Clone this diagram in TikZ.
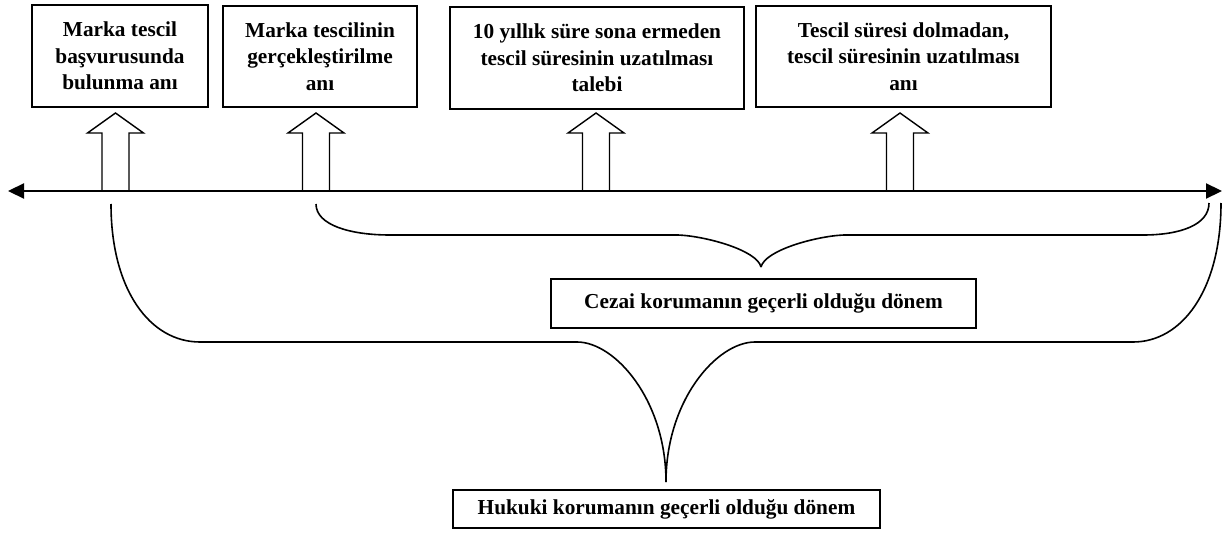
\documentclass[tikz,border=0pt]{standalone}
\usepackage{fontspec}
\setmainfont{Liberation Serif}
\usetikzlibrary{arrows.meta}
\begin{document}
\begin{tikzpicture}[x=1pt,y=-1pt,
  box/.style={draw, line width=1.6pt, inner sep=0pt, align=center,
    font=\fontsize{21.3}{26.3}\selectfont\bfseries},
  brace/.style={line width=1.6pt},
  blockup/.pic={\draw[line width=1.4pt, fill=white] (-13.5,0) -- (-13.5,-58) -- (-28,-58) -- (0,-78) -- (28,-58) -- (13.5,-58) -- (13.5,0);}
]
\useasboundingbox (0,0) rectangle (1232,543);

% boxes
\node[box, minimum width=176pt, minimum height=102pt] (b1) at (120,56) {Marka tescil\\başvurusunda\\bulunma anı};
\node[box, minimum width=194pt, minimum height=101pt] (b2) at (320,56.5) {Marka tescilinin\\gerçekleştirilme\\anı};
\node[box, minimum width=294pt, minimum height=102pt] (b3) at (597,58) {10 yıllık süre sona ermeden\\tescil süresinin uzatılması\\talebi};
\node[box, minimum width=295pt, minimum height=101pt] (b4) at (903.5,56.5) {Tescil süresi dolmadan,\\tescil süresinin uzatılması\\anı};
\node[box, minimum width=425pt, minimum height=49pt] (cez) at (763.5,303.5) {Cezai korumanın geçerli olduğu dönem};
\node[box, minimum width=427pt, minimum height=38pt] (huk) at (666.5,509) {Hukuki korumanın geçerli olduğu dönem};

% timeline points
\coordinate (a1) at (115.5,191);
\coordinate (a2) at (316,191);
\coordinate (a3) at (596,191);
\coordinate (a4) at (900,191);
\coordinate (tl) at (8,191);
\coordinate (tr) at (1222,191);

% block arrows
\pic at (a1) {blockup};
\pic at (a2) {blockup};
\pic at (a3) {blockup};
\pic at (a4) {blockup};

% timeline
\draw[line width=2.2pt, {Triangle[length=16pt,width=15pt]}-{Triangle[length=16pt,width=15pt]}] (tl) -- (tr);

% brace endpoints
\coordinate (cL) at (316,204);
\coordinate (cR) at (1209,203);
\coordinate (cT) at (761,267);
\coordinate (hL) at (111,204);
\coordinate (hR) at (1221,203);
\coordinate (hT) at (666,482);

% upper brace (cezai)
\draw[brace] (cL) .. controls (316,225) and (350,235) .. (390,235) -- (678,235)
  .. controls (705,236) and (757,250) .. (cT);
\draw[brace] (cR) .. controls (1209,225) and (1180,235) .. (1143,235) -- (844,235)
  .. controls (817,236) and (765,250) .. (cT);

% lower brace (hukuki)
\draw[brace] (hL) .. controls (111,290) and (150,342) .. (200,342) -- (577,342)
  .. controls (615,342) and (666,400) .. (hT);
\draw[brace] (hR) .. controls (1221,290) and (1182,342) .. (1133,342) -- (755,342)
  .. controls (717,342) and (666,400) .. (hT);
\end{tikzpicture}
\end{document}
